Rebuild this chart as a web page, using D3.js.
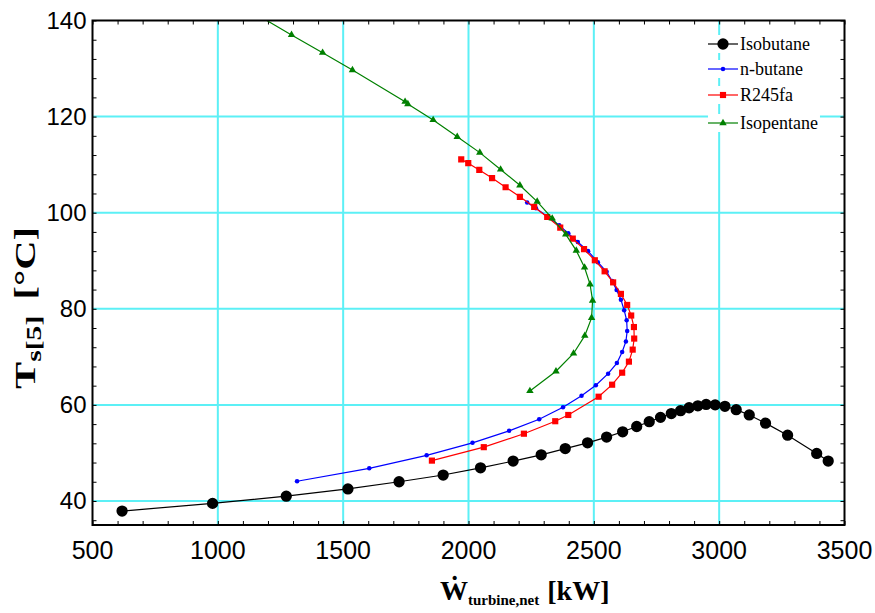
<!DOCTYPE html>
<html>
<head>
<meta charset="utf-8">
<script src="https://cdn.jsdelivr.net/npm/d3@7"></script>
<style>
  body { margin: 0; background: #fff; }
  svg { display: block; }
</style>
</head>
<body>
<script>
// values: net turbine power [kW] vs T_s[5] [°C]
var isobutaneW = [618, 979, 1273, 1519, 1723, 1899, 2048, 2178, 2290, 2386, 2475, 2551, 2615, 2671, 2721, 2766, 2809, 2846, 2880, 2915, 2948, 2984, 3023, 3068, 3120, 3185, 3273, 3389, 3435]
var isobutaneT = [37.9, 39.5, 41.0, 42.5, 44.0, 45.4, 46.9, 48.3, 49.6, 50.9, 52.1, 53.3, 54.4, 55.5, 56.5, 57.4, 58.2, 58.8, 59.4, 59.8, 60.1, 60.0, 59.7, 59.0, 57.9, 56.2, 53.7, 49.9, 48.3]

var nbutaneW = [1316, 1604, 1833, 2016, 2162, 2282, 2377, 2451, 2508, 2557, 2592, 2613, 2628, 2633, 2631, 2621, 2608, 2591, 2573, 2551, 2516, 2477, 2436, 2398, 2362, 2317, 2269, 2234]
var nbutaneT = [44.1, 46.8, 49.5, 52.1, 54.6, 57.0, 59.5, 61.9, 64.1, 66.5, 68.7, 71.0, 73.2, 75.4, 77.6, 79.7, 81.9, 83.9, 85.8, 87.7, 89.7, 92.0, 93.9, 95.7, 97.4, 99.1, 100.9, 102.1]

var r245faW = [1854, 2061, 2221, 2346, 2398, 2519, 2573, 2613, 2640, 2655, 2661, 2660, 2649, 2633, 2608, 2577, 2543, 2504, 2461, 2416, 2366, 2314, 2262, 2205, 2148, 2094, 2043, 1999, 1971]
var r245faT = [48.4, 51.2, 54.0, 56.6, 57.9, 61.7, 64.2, 66.7, 69.0, 71.5, 73.8, 76.2, 78.6, 80.8, 83.1, 85.5, 87.8, 90.1, 92.4, 94.6, 96.9, 99.1, 101.2, 103.3, 105.3, 107.2, 108.9, 110.3, 111.1]

var isopentaneW = [1130, 1294, 1418, 1537, 1747, 1758, 1859, 1955, 2045, 2128, 2205, 2274, 2334, 2388, 2430, 2463, 2485, 2495, 2491, 2464, 2419, 2349, 2245]
var isopentaneT = [142.0, 137.0, 133.3, 129.7, 123.1, 122.6, 119.3, 115.8, 112.5, 109.0, 105.7, 102.3, 98.8, 95.5, 92.1, 88.6, 85.1, 81.7, 78.1, 74.4, 70.7, 67.0, 62.9]

var seriesNames = ["Isobutane", "n-butane", "R245fa", "Isopentane"]
var seriesColors = ["#000000", "#0000ff", "#ff0000", "#008000"]
var seriesMarks = ["circle", "dot", "square", "triangle"]

var xTicks = [500, 1000, 1500, 2000, 2500, 3000, 3500]
var yTicks = [40, 60, 80, 100, 120, 140]

var seriesData = [
    d3.zip(isobutaneW, isobutaneT),
    d3.zip(nbutaneW, nbutaneT),
    d3.zip(r245faW, r245faT),
    d3.zip(isopentaneW, isopentaneT)
]

var screen = {width: 875, height: 613}
var margins = {top: 20.5, bottom: 88, left: 92.5, right: 30.5}
var width = screen.width - margins.left - margins.right
var height = screen.height - margins.top - margins.bottom

var xScale = d3.scaleLinear()
                .domain([500, 3500])
                .range([0, width])

var yScale = d3.scaleLinear()
                .domain([35, 140])
                .range([height, 0])

var gridColor = "#5cf0f6"

var svg = d3.select("body")
    .append("svg")
    .attr("width", screen.width)
    .attr("height", screen.height)

svg.append("defs").append("clipPath")
    .attr("id", "plotClip")
    .append("rect")
    .attr("width", width)
    .attr("height", height)

var plot = svg.append("g")
    .attr("transform", "translate(" + margins.left + "," + margins.top + ")")

// grid
plot.append("g").selectAll("line")
    .data(xTicks.slice(1, -1))
    .enter().append("line")
    .attr("x1", function(d) { return xScale(d) })
    .attr("x2", function(d) { return xScale(d) })
    .attr("y1", 0).attr("y2", height)
    .attr("stroke", gridColor).attr("stroke-width", 2)

plot.append("g").selectAll("line")
    .data(yTicks.slice(0, -1))
    .enter().append("line")
    .attr("y1", function(d) { return yScale(d) })
    .attr("y2", function(d) { return yScale(d) })
    .attr("x1", 0).attr("x2", width)
    .attr("stroke", gridColor).attr("stroke-width", 2)

// inward minor ticks on all four sides
var xMinor = d3.range(500, 3501, 100)
var yMinor = d3.range(36, 141, 4)

plot.append("g")
    .attr("transform", "translate(0," + height + ")")
    .call(d3.axisBottom(xScale).tickValues(xMinor).tickSize(-4).tickFormat(""))
plot.append("g")
    .call(d3.axisTop(xScale).tickValues(xMinor).tickSize(-4).tickFormat(""))
plot.append("g")
    .call(d3.axisLeft(yScale).tickValues(yMinor).tickSize(-4).tickFormat(""))
plot.append("g")
    .attr("transform", "translate(" + width + ",0)")
    .call(d3.axisRight(yScale).tickValues(yMinor).tickSize(-4).tickFormat(""))

plot.selectAll(".domain").remove()
plot.selectAll(".tick line").attr("stroke", "#000").attr("stroke-width", 1)

// tick labels
plot.append("g").selectAll("text")
    .data(xTicks)
    .enter().append("text")
    .attr("x", function(d) { return xScale(d) })
    .attr("y", height + 34)
    .attr("text-anchor", "middle")
    .style("font-family", "'Liberation Sans', Arial, sans-serif")
    .style("font-size", "25px")
    .text(function(d) { return d })

plot.append("g").selectAll("text")
    .data(yTicks)
    .enter().append("text")
    .attr("x", -6)
    .attr("y", function(d) { return yScale(d) + 8 })
    .attr("text-anchor", "end")
    .style("font-family", "'Liberation Sans', Arial, sans-serif")
    .style("font-size", "24px")
    .text(function(d) { return d })

// curves
var line = d3.line()
    .x(function(d) { return xScale(d[0]) })
    .y(function(d) { return yScale(d[1]) })

var marker = function(kind) {
    if (kind == "circle") return d3.symbol().type(d3.symbolCircle).size(100)()
    if (kind == "dot") return d3.symbol().type(d3.symbolCircle).size(16)()
    if (kind == "square") return d3.symbol().type(d3.symbolSquare).size(38)()
    return d3.symbol().type(d3.symbolTriangle).size(24)()
}

var curves = plot.append("g").attr("clip-path", "url(#plotClip)")

seriesData.forEach(function(pts, i) {
    var g = curves.append("g")
    g.append("path")
        .attr("d", line(pts))
        .attr("fill", "none")
        .attr("stroke", seriesColors[i])
        .attr("stroke-width", 1.2)
    g.selectAll("path.mark")
        .data(pts)
        .enter().append("path")
        .attr("class", "mark")
        .attr("transform", function(d) { return "translate(" + xScale(d[0]) + "," + yScale(d[1]) + ")" })
        .attr("d", marker(seriesMarks[i]))
        .attr("fill", seriesColors[i])
})

// frame
plot.append("rect")
    .attr("width", width)
    .attr("height", height)
    .attr("fill", "none")
    .attr("stroke", "#000")
    .attr("stroke-width", 2)

// legend
var legendY = [44, 69, 95, 123]
var legend = svg.append("g")

seriesNames.forEach(function(name, i) {
    var row = legend.append("g").attr("transform", "translate(708," + legendY[i] + ")")
    var txt = row.append("text")
        .attr("x", 32)
        .attr("y", 6)
        .style("font-family", "'Liberation Serif', 'Times New Roman', serif")
        .style("font-size", "18px")
        .text(name)
    var w = txt.node().getComputedTextLength()
    row.insert("rect", "text")
        .attr("x", 0).attr("y", -9)
        .attr("width", 34 + w).attr("height", 18)
        .attr("fill", "#fff")
    row.append("line")
        .attr("x1", 0).attr("x2", 30)
        .attr("stroke", seriesColors[i]).attr("stroke-width", 1.2)
    row.append("path")
        .attr("transform", "translate(15,0)")
        .attr("d", marker(seriesMarks[i]))
        .attr("fill", seriesColors[i])
})

// axis titles
var serif = "'Liberation Serif', 'Times New Roman', serif"

var xTitle = svg.append("text")
    .attr("x", 440)
    .attr("y", 600)
    .style("font-family", serif)
    .style("font-weight", "bold")
    .style("font-size", "28px")
xTitle.append("tspan").text("Ẇ")
xTitle.append("tspan").attr("dy", 5).style("font-size", "15px").text("turbine,net")
xTitle.append("tspan").attr("dy", -5).attr("dx", 8).text("[kW]")

// the y title in the picture is drawn stretched along its length
var yTitle = svg.append("text")
    .attr("transform", "translate(35,308) rotate(-90) scale(1.35,1)")
    .attr("text-anchor", "middle")
    .style("font-family", serif)
    .style("font-weight", "bold")
    .style("font-size", "30px")
yTitle.append("tspan").text("T")
yTitle.append("tspan").attr("dy", 6).style("font-size", "22px").text("s[5]")
yTitle.append("tspan").attr("dy", -6).attr("dx", 12).text("[°C]")
</script>
</body>
</html>
